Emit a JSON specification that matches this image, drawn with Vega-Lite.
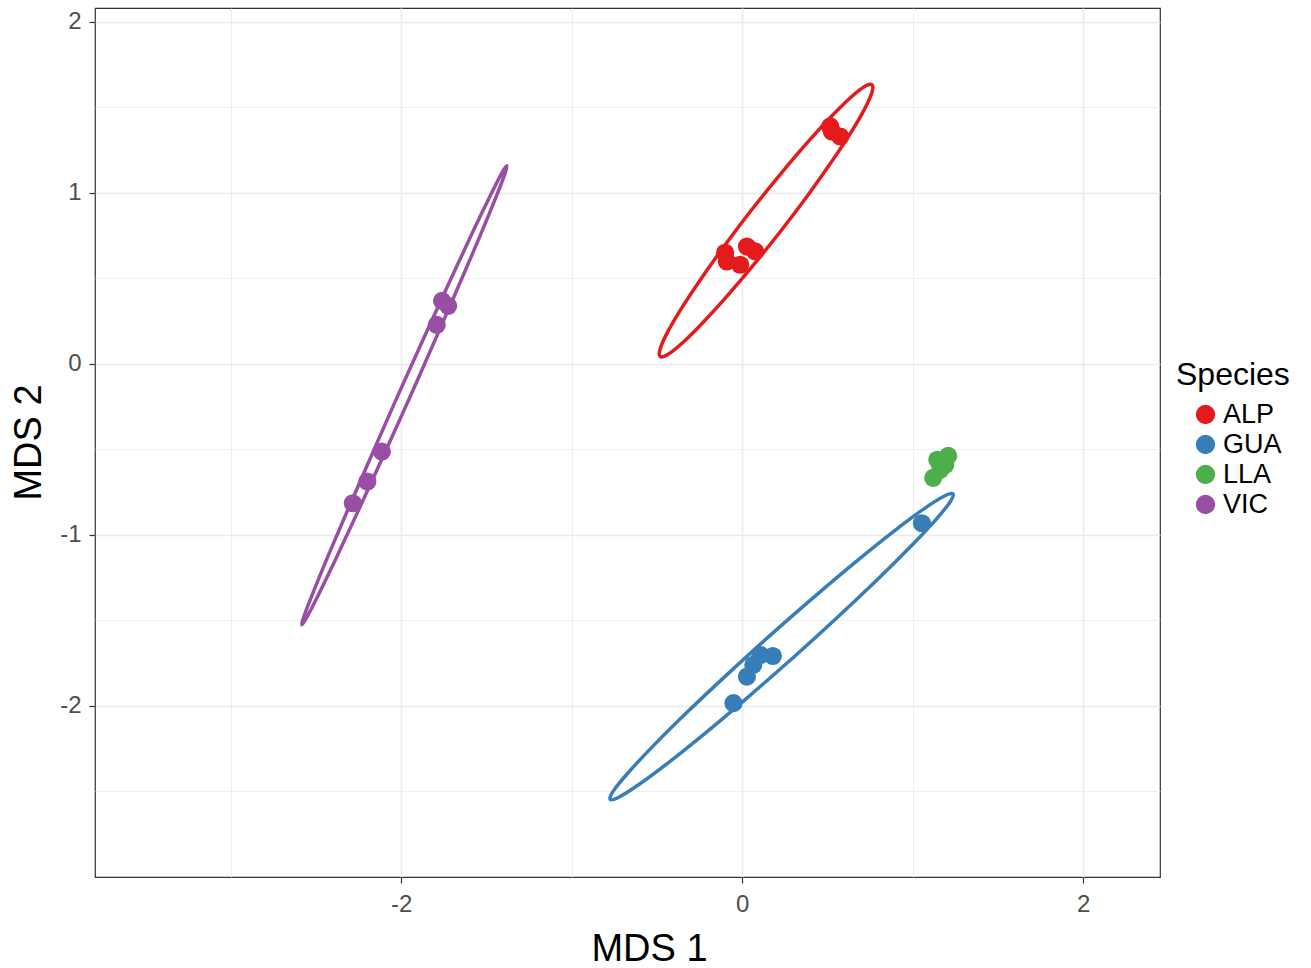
{
  "$schema": "https://vega.github.io/schema/vega-lite/v6.json",
  "width": 1065,
  "height": 869,
  "autosize": {"type": "none"},
  "padding": {"left": 95, "top": 8, "right": 151, "bottom": 91},
  "background": "white",
  "config": {
    "view": {"stroke": "#333333", "strokeWidth": 1.2},
    "font": "Liberation Sans"
  },
  "datasets": {
    "pts": [
      {"species": "ALP", "x": 0.516, "y": 1.388},
      {"species": "ALP", "x": 0.575, "y": 1.329},
      {"species": "ALP", "x": 0.526, "y": 1.358},
      {"species": "ALP", "x": -0.090, "y": 0.598},
      {"species": "ALP", "x": 0.028, "y": 0.686},
      {"species": "ALP", "x": 0.076, "y": 0.657},
      {"species": "ALP", "x": -0.012, "y": 0.579},
      {"species": "ALP", "x": -0.100, "y": 0.649},
      {"species": "GUA", "x": 1.054, "y": -0.932},
      {"species": "GUA", "x": 0.180, "y": -1.708},
      {"species": "GUA", "x": 0.106, "y": -1.702},
      {"species": "GUA", "x": 0.065, "y": -1.760},
      {"species": "GUA", "x": 0.028, "y": -1.829},
      {"species": "GUA", "x": -0.051, "y": -1.984},
      {"species": "LLA", "x": 1.144, "y": -0.561},
      {"species": "LLA", "x": 1.208, "y": -0.538},
      {"species": "LLA", "x": 1.191, "y": -0.591},
      {"species": "LLA", "x": 1.161, "y": -0.620},
      {"species": "LLA", "x": 1.120, "y": -0.667},
      {"species": "VIC", "x": -1.760, "y": 0.368},
      {"species": "VIC", "x": -1.724, "y": 0.339},
      {"species": "VIC", "x": -1.791, "y": 0.228},
      {"species": "VIC", "x": -2.113, "y": -0.513},
      {"species": "VIC", "x": -2.198, "y": -0.688},
      {"species": "VIC", "x": -2.283, "y": -0.815}
    ],
    "ell": [
      {"species": "ALP", "i": 0, "x": 0.761, "y": 1.631},
      {"species": "ALP", "i": 1, "x": 0.718, "y": 1.621},
      {"species": "ALP", "i": 2, "x": 0.636, "y": 1.557},
      {"species": "ALP", "i": 3, "x": 0.521, "y": 1.444},
      {"species": "ALP", "i": 4, "x": 0.379, "y": 1.290},
      {"species": "ALP", "i": 5, "x": 0.221, "y": 1.105},
      {"species": "ALP", "i": 6, "x": 0.057, "y": 0.902},
      {"species": "ALP", "i": 7, "x": -0.101, "y": 0.694},
      {"species": "ALP", "i": 8, "x": -0.242, "y": 0.496},
      {"species": "ALP", "i": 9, "x": -0.358, "y": 0.321},
      {"species": "ALP", "i": 10, "x": -0.439, "y": 0.182},
      {"species": "ALP", "i": 11, "x": -0.481, "y": 0.087},
      {"species": "ALP", "i": 12, "x": -0.481, "y": 0.043},
      {"species": "ALP", "i": 13, "x": -0.438, "y": 0.053},
      {"species": "ALP", "i": 14, "x": -0.356, "y": 0.117},
      {"species": "ALP", "i": 15, "x": -0.241, "y": 0.230},
      {"species": "ALP", "i": 16, "x": -0.099, "y": 0.384},
      {"species": "ALP", "i": 17, "x": 0.059, "y": 0.569},
      {"species": "ALP", "i": 18, "x": 0.223, "y": 0.772},
      {"species": "ALP", "i": 19, "x": 0.381, "y": 0.980},
      {"species": "ALP", "i": 20, "x": 0.522, "y": 1.178},
      {"species": "ALP", "i": 21, "x": 0.638, "y": 1.353},
      {"species": "ALP", "i": 22, "x": 0.719, "y": 1.492},
      {"species": "ALP", "i": 23, "x": 0.761, "y": 1.587},
      {"species": "VIC", "i": 0, "x": -1.380, "y": 1.158},
      {"species": "VIC", "i": 1, "x": -1.409, "y": 1.116},
      {"species": "VIC", "i": 2, "x": -1.476, "y": 0.985},
      {"species": "VIC", "i": 3, "x": -1.578, "y": 0.775},
      {"species": "VIC", "i": 4, "x": -1.707, "y": 0.499},
      {"species": "VIC", "i": 5, "x": -1.855, "y": 0.177},
      {"species": "VIC", "i": 6, "x": -2.012, "y": -0.170},
      {"species": "VIC", "i": 7, "x": -2.166, "y": -0.518},
      {"species": "VIC", "i": 8, "x": -2.308, "y": -0.843},
      {"species": "VIC", "i": 9, "x": -2.428, "y": -1.123},
      {"species": "VIC", "i": 10, "x": -2.517, "y": -1.339},
      {"species": "VIC", "i": 11, "x": -2.570, "y": -1.477},
      {"species": "VIC", "i": 12, "x": -2.582, "y": -1.526},
      {"species": "VIC", "i": 13, "x": -2.554, "y": -1.484},
      {"species": "VIC", "i": 14, "x": -2.486, "y": -1.353},
      {"species": "VIC", "i": 15, "x": -2.384, "y": -1.143},
      {"species": "VIC", "i": 16, "x": -2.255, "y": -0.867},
      {"species": "VIC", "i": 17, "x": -2.107, "y": -0.545},
      {"species": "VIC", "i": 18, "x": -1.950, "y": -0.198},
      {"species": "VIC", "i": 19, "x": -1.796, "y": 0.150},
      {"species": "VIC", "i": 20, "x": -1.654, "y": 0.475},
      {"species": "VIC", "i": 21, "x": -1.534, "y": 0.755},
      {"species": "VIC", "i": 22, "x": -1.445, "y": 0.971},
      {"species": "VIC", "i": 23, "x": -1.392, "y": 1.109},
      {"species": "GUA", "i": 0, "x": 1.236, "y": -0.760},
      {"species": "GUA", "i": 1, "x": 1.186, "y": -0.773},
      {"species": "GUA", "i": 2, "x": 1.070, "y": -0.845},
      {"species": "GUA", "i": 3, "x": 0.898, "y": -0.972},
      {"species": "GUA", "i": 4, "x": 0.680, "y": -1.146},
      {"species": "GUA", "i": 5, "x": 0.431, "y": -1.355},
      {"species": "GUA", "i": 6, "x": 0.169, "y": -1.583},
      {"species": "GUA", "i": 7, "x": -0.089, "y": -1.817},
      {"species": "GUA", "i": 8, "x": -0.325, "y": -2.039},
      {"species": "GUA", "i": 9, "x": -0.523, "y": -2.235},
      {"species": "GUA", "i": 10, "x": -0.670, "y": -2.392},
      {"species": "GUA", "i": 11, "x": -0.756, "y": -2.498},
      {"species": "GUA", "i": 12, "x": -0.774, "y": -2.546},
      {"species": "GUA", "i": 13, "x": -0.724, "y": -2.534},
      {"species": "GUA", "i": 14, "x": -0.608, "y": -2.461},
      {"species": "GUA", "i": 15, "x": -0.436, "y": -2.334},
      {"species": "GUA", "i": 16, "x": -0.218, "y": -2.160},
      {"species": "GUA", "i": 17, "x": 0.031, "y": -1.951},
      {"species": "GUA", "i": 18, "x": 0.293, "y": -1.723},
      {"species": "GUA", "i": 19, "x": 0.551, "y": -1.489},
      {"species": "GUA", "i": 20, "x": 0.787, "y": -1.267},
      {"species": "GUA", "i": 21, "x": 0.985, "y": -1.071},
      {"species": "GUA", "i": 22, "x": 1.132, "y": -0.915},
      {"species": "GUA", "i": 23, "x": 1.218, "y": -0.809}
    ]
  },
  "layer": [
    {
      "data": {"name": "ell"},
      "mark": {"type": "line", "interpolate": "cardinal-closed", "strokeWidth": 3.5, "clip": true},
      "encoding": {
        "x": {"field": "x", "type": "quantitative"},
        "y": {"field": "y", "type": "quantitative"},
        "order": {"field": "i", "type": "quantitative"},
        "color": {
          "field": "species", "type": "nominal",
          "scale": {"domain": ["ALP", "GUA", "LLA", "VIC"], "range": ["#E41A1C", "#377EB8", "#4DAF4A", "#984EA3"]}
        }
      }
    },
    {
      "data": {"name": "pts"},
      "mark": {"type": "point", "shape": "circle", "filled": true, "size": 330, "opacity": 1},
      "encoding": {
        "x": {
          "field": "x", "type": "quantitative",
          "scale": {"domain": [-3.795, 2.45], "nice": false, "zero": false},
          "axis": {
            "values": [-3, -2, -1, 0, 1, 2],
            "labelExpr": "datum.value % 2 === 0 ? '' + datum.value : ''",
            "title": "MDS 1",
            "titleFontSize": 38,
            "titleFontWeight": "normal",
            "titleColor": "#000000",
            "titleX": 554,
            "titleY": 83,
            "titleBaseline": "alphabetic",
            "labelFontSize": 24,
            "labelColor": "#4D4D4D",
            "labelPadding": 9,
            "domain": false,
            "tickColor": "#333333",
            "tickSize": 6,
            "tickWidth": 1.2,
            "tickOpacity": {"condition": {"test": "datum.value % 2 === 0", "value": 1}, "value": 0},
            "gridColor": "#EBEBEB",
            "gridWidth": {"condition": {"test": "datum.value % 2 === 0", "value": 1.6}, "value": 0.8}
          }
        },
        "y": {
          "field": "y", "type": "quantitative",
          "scale": {"domain": [-3.0, 2.08], "nice": false, "zero": false},
          "axis": {
            "values": [-2.5, -2, -1.5, -1, -0.5, 0, 0.5, 1, 1.5, 2],
            "labelExpr": "datum.value % 1 === 0 ? '' + datum.value : ''",
            "title": "MDS 2",
            "titleFontSize": 38,
            "titleFontWeight": "normal",
            "titleColor": "#000000",
            "titleX": -55,
            "titleY": 434,
            "titleAngle": 270,
            "titleBaseline": "alphabetic",
            "labelFontSize": 24,
            "labelColor": "#4D4D4D",
            "labelPadding": 8,
            "domain": false,
            "tickColor": "#333333",
            "tickSize": 6,
            "tickWidth": 1.2,
            "tickOpacity": {"condition": {"test": "datum.value % 1 === 0", "value": 1}, "value": 0},
            "gridColor": "#EBEBEB",
            "gridWidth": {"condition": {"test": "datum.value % 1 === 0", "value": 1.6}, "value": 0.8}
          }
        },
        "color": {
          "field": "species", "type": "nominal",
          "scale": {"domain": ["ALP", "GUA", "LLA", "VIC"], "range": ["#E41A1C", "#377EB8", "#4DAF4A", "#984EA3"]},
          "legend": {
            "title": "Species",
            "orient": "none",
            "legendX": 1081,
            "legendY": 352,
            "titleFontSize": 32,
            "titleFontWeight": "normal",
            "titleColor": "#000000",
            "titlePadding": 9,
            "labelFontSize": 27,
            "labelColor": "#000000",
            "symbolType": "circle",
            "symbolSize": 320,
            "symbolOffset": 16,
            "rowPadding": 2
          }
        }
      }
    }
  ]
}
